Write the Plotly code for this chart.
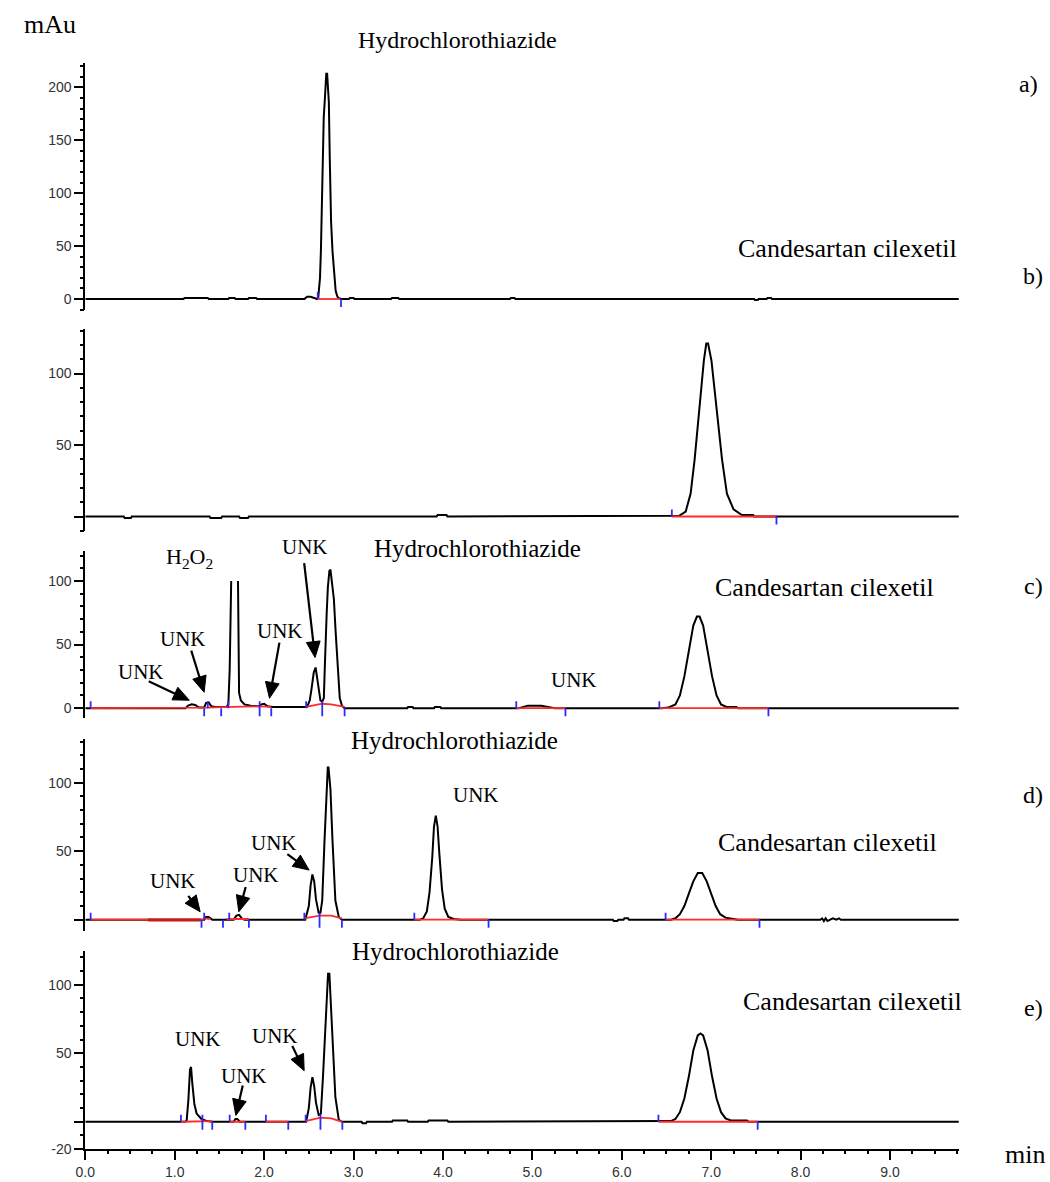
import math
import plotly.graph_objects as go

W, H = 1050, 1182
T_MAX = 9.77

# ---------------- data (time in min, signal in mAu) ----------------
a_time = [
    0.00, 1.10, 1.11, 1.37, 1.38, 1.60, 1.61, 1.67, 1.68, 1.82,
    1.83, 1.91, 1.92, 2.45, 2.48, 2.52, 2.56, 2.59, 2.605, 2.625,
    2.635, 2.645, 2.652, 2.66, 2.667, 2.68, 2.695, 2.705, 2.715, 2.724,
    2.735, 2.749, 2.765, 2.779, 2.80, 2.816, 2.83, 2.86, 2.95, 2.96,
    3.00, 3.01, 3.42, 3.43, 3.50, 3.51, 4.75, 4.76, 4.80, 4.81,
    7.48, 7.49, 7.52, 7.53, 7.62, 7.63, 7.67, 7.68, 7.80, 9.77]
a_mau = [
    0, 0, 1, 1, 0, 0, 1, 1, 0, 0,
    1, 1, 0, 0, 2, 2, 1, 0, 1, 20,
    45, 80, 101, 150, 172, 190, 213, 213, 200, 186,
    130, 73, 45, 26, 8, 3, 1, 0, 0, 1,
    1, 0, 0, 1, 1, 0, 0, 1, 1, 0,
    0, -1, -1, 0, 0, 1, 1, 0, 0, 0]

b_time = [
    0.00, 0.43, 0.44, 0.51, 0.52, 0.58, 0.59, 1.00, 1.01, 1.39,
    1.40, 1.52, 1.53, 1.72, 1.73, 1.82, 1.83, 1.98, 1.99, 3.93,
    3.94, 4.04, 4.05, 6.56, 6.641, 6.715, 6.77, 6.815, 6.863, 6.918,
    6.945, 6.965, 7.003, 7.065, 7.121, 7.176, 7.25, 7.343, 7.47, 7.48,
    9.77]
b_mau = [
    0, 0, -1, -1, 0, 0, -0.5, -0.5, 0, 0,
    -1, -1, 0, 0, -1, -1, 0, 0, 0, 0,
    1, 1, 0, 0, 0.5, 3.5, 16, 40, 74, 109,
    121, 121, 109, 74, 40, 16, 5, 1, 1, 0,
    0]

c_time = [
    0.00, 1.12, 1.15, 1.19, 1.23, 1.27, 1.33, 1.35, 1.38, 1.41,
    1.45, 1.58, 1.60, 1.615, 1.632, 1.67, 1.708, 1.712, 1.72, 1.74,
    1.78, 1.85, 1.95, 1.97, 2.00, 2.04, 2.10, 2.48, 2.51, 2.53,
    2.555, 2.576, 2.595, 2.61, 2.63, 2.65, 2.668, 2.68, 2.687, 2.70,
    2.713, 2.73, 2.742, 2.755, 2.78, 2.80, 2.816, 2.83, 2.846, 2.87,
    2.90, 3.60, 3.61, 3.66, 3.67, 3.90, 3.91, 3.97, 3.98, 4.85,
    4.90, 4.95, 5.10, 5.18, 5.25, 6.45, 6.52, 6.60, 6.65, 6.70,
    6.75, 6.80, 6.84, 6.87, 6.91, 6.96, 7.01, 7.06, 7.11, 7.17,
    7.28, 7.30, 9.77]
c_mau = [
    0, 0, 2, 3, 2.5, 0.5, 0.5, 4, 4.5, 1.5,
    1, 1, 3, 30, 100, None, 100, 30, 12, 6,
    3, 2, 1.5, 3, 3.5, 1.5, 1, 1, 6, 15,
    28, 32, 24, 15, 6, 5, 8, 35, 54, 75,
    95, 108, 109, 100, 86, 60, 41, 20, 8, 2,
    0, 0, 1, 1, 0, 0, 1, 1, 0, 0,
    1, 2, 2, 1, 0, 0, 0.5, 3, 10, 25,
    45, 65, 72, 72, 65, 45, 25, 10, 3, 1,
    1, 0, 0]

d_time = [
    0.00, 1.33, 1.35, 1.38, 1.40, 1.42, 1.66, 1.69, 1.72, 1.75,
    1.78, 2.46, 2.50, 2.52, 2.54, 2.56, 2.58, 2.61, 2.63, 2.65,
    2.675, 2.697, 2.712, 2.72, 2.742, 2.764, 2.797, 2.835, 2.87, 3.74,
    3.78, 3.82, 3.85, 3.88, 3.90, 3.92, 3.94, 3.96, 3.99, 4.02,
    4.06, 4.12, 4.20, 5.90, 5.91, 5.95, 5.96, 6.02, 6.03, 6.07,
    6.08, 6.55, 6.60, 6.65, 6.70, 6.75, 6.80, 6.85, 6.90, 6.95,
    7.00, 7.05, 7.10, 7.16, 7.25, 7.30, 8.22, 8.24, 8.26, 8.28,
    8.30, 8.33, 8.36, 8.40, 8.43, 8.45, 9.77]
d_mau = [
    0, 0, 2, 2, 1, 0, 0, 3, 3.5, 1,
    0, 0, 10, 25, 33, 28, 15, 5, 5, 14,
    57, 95, 111, 111, 95, 59, 14, 2, 0, 0,
    1, 6, 20, 45, 68, 76, 68, 48, 22, 8,
    2, 0.5, 0, 0, -1, -1, 0, 0, 1, 1,
    0, 0, 1, 4, 10, 19, 28, 34, 34, 28,
    19, 10, 4, 1.5, 0.5, 0, 0, 1, -1, 1,
    -1, 0, 1, 0, 1, 0, 0]

e_time = [
    0.00, 1.12, 1.134, 1.153, 1.171, 1.183, 1.197, 1.22, 1.245, 1.30,
    1.36, 1.42, 1.66, 1.68, 1.70, 1.73, 2.47, 2.50, 2.52, 2.54,
    2.56, 2.58, 2.61, 2.635, 2.66, 2.685, 2.715, 2.73, 2.76, 2.797,
    2.835, 2.87, 3.09, 3.10, 3.14, 3.15, 3.43, 3.44, 3.60, 3.61,
    3.83, 3.84, 4.05, 4.06, 6.55, 6.60, 6.65, 6.70, 6.75, 6.80,
    6.85, 6.88, 6.91, 6.96, 7.01, 7.06, 7.11, 7.16, 7.22, 7.40,
    7.42, 9.77]
e_mau = [
    0, 0, 1, 16, 38, 40, 28, 13, 6, 2,
    0.5, 0, 0, 2, 2, 0, 0, 10, 25, 32.6,
    26, 14, 5, 6, 35, 72, 108, 108, 72, 18,
    1.5, 0, 0, -1, -1, 0, 0, 1, 1, 0,
    0, 1, 1, 0, 0.5, 2, 7, 17, 33, 52,
    63, 64.5, 63, 52, 33, 17, 7, 2.5, 1, 1,
    0, 0]

# integration baselines (red)
a_red_t = [2.60, 2.85]
a_red_y = [0, 0]
b_red_t = [6.56, 7.73]
b_red_y = [0, 0]
c_red_t = [0.06, 1.33, 1.37, 1.52, 1.60, 1.95, 2.08, None, 2.47, 2.62, 2.65, 2.75, 2.90,
           None, 4.82, 5.37, None, 6.42, 7.64]
c_red_y = [0, 0, 0.5, 0.8, 1, 1.5, 1, None, 1, 3, 3.5, 3, 1, None, 0, 0, None, 0, 0]
d_red_t = [0.06, 1.31, 1.33, 1.40, None, 1.58, 1.83, None, 2.45, 2.62, 2.75, 2.87,
           None, 3.68, 4.51, None, 6.49, 7.54]
d_red_y = [0, 0, 1, 0.5, None, 0.5, 0.5, None, 1, 3, 3, 1, None, 0, 0, None, 0, 0]
d_dark_t = [0.70, 1.29]
d_dark_y = [-0.3, -0.3]
e_red_t = [1.07, 1.31, 1.42, None, 1.615, 1.79, None, 2.02, 2.27, None, 2.465, 2.63, 2.75, 2.875,
           None, 6.41, 7.52]
e_red_y = [0, 0, 0.5, None, 0, 0, None, 0, 0, None, 0.5, 3, 2.5, 0, None, 0, 0]

# peak start/end markers (blue): side 1 = above, -1 = below, 0 = both
a_mark_t = [2.60, 2.86]
a_mark_side = [1, -1]
b_mark_t = [6.56, 7.73]
b_mark_side = [1, -1]
c_mark_t = [0.06, 1.33, 1.37, 1.52, 1.60, 1.95, 2.08, 2.47, 2.65, 2.90, 4.82, 5.37, 6.42, 7.64]
c_mark_side = [1, -1, 1, -1, 1, 0, -1, 1, 0, -1, 1, -1, 1, -1]
d_mark_t = [0.06, 1.30, 1.33, 1.54, 1.61, 1.83, 2.45, 2.62, 2.87, 3.68, 4.51, 6.49, 7.54]
d_mark_side = [1, -1, 1, -1, 1, -1, 1, 0, -1, 1, -1, 1, -1]
e_mark_t = [1.07, 1.31, 1.42, 1.615, 1.79, 2.02, 2.27, 2.465, 2.63, 2.875, 6.41, 7.52]
e_mark_side = [1, 0, -1, 1, -1, 1, -1, 1, 0, -1, 1, -1]

# axis ticks
a_yticks = [0, 50, 100, 150, 200]
a_yticklabels = ["0", "50", "100", "150", "200"]
b_yticks = [0, 50, 100]
b_yticklabels = ["", "50", "100"]
c_yticks = [0, 50, 100]
c_yticklabels = ["0", "50", "100"]
d_yticks = [0, 50, 100]
d_yticklabels = ["", "50", "100"]
e_yticks = [-20, 0, 50, 100]
e_yticklabels = ["-20", "", "50", "100"]
x_ticks = [0, 1, 2, 3, 4, 5, 6, 7, 8, 9]
x_ticklabels = ["0.0", "1.0", "2.0", "3.0", "4.0", "5.0", "6.0", "7.0", "8.0", "9.0"]
Y_MINOR_STEP = 10
X_MINOR_STEP = 0.25

# ---------------- layout geometry (pixels) ----------------
X_LEFT, X_RIGHT = 76, 958
panels = [
    dict(time=a_time, mau=a_mau, red_t=a_red_t, red_y=a_red_y, mt=a_mark_t, ms=a_mark_side,
         top=63, bottom=312, rng=[-10.3, 223.5], tv=a_yticks, tt=a_yticklabels),
    dict(time=b_time, mau=b_mau, red_t=b_red_t, red_y=b_red_y, mt=b_mark_t, ms=b_mark_side,
         top=331, bottom=535, rng=[-10.4, 131.3], tv=b_yticks, tt=b_yticklabels),
    dict(time=c_time, mau=c_mau, red_t=c_red_t, red_y=c_red_y, mt=c_mark_t, ms=c_mark_side,
         top=555, bottom=723, rng=[-7.8, 123.4], tv=c_yticks, tt=c_yticklabels),
    dict(time=d_time, mau=d_mau, red_t=d_red_t, red_y=d_red_y, mt=d_mark_t, ms=d_mark_side,
         top=744, bottom=937, rng=[-8.0, 131.9], tv=d_yticks, tt=d_yticklabels),
    dict(time=e_time, mau=e_mau, red_t=e_red_t, red_y=e_red_y, mt=e_mark_t, ms=e_mark_side,
         top=957, bottom=1157, rng=[-20.0, 125.0], tv=e_yticks, tt=e_yticklabels),
]

for p in panels:
    assert len(p["time"]) == len(p["mau"])
    assert len(p["red_t"]) == len(p["red_y"])
    assert len(p["mt"]) == len(p["ms"])

TICK_FONT = dict(family="Liberation Sans, Arial, sans-serif", size=14, color="#333333")
SERIF = "Liberation Serif, Times New Roman, serif"
LINE_W = 2.0
AX_W = 1.8
MAJOR_LEN = 9
MINOR_LEN = 4


def multiples(lo, hi, step, skip):
    k0 = math.ceil(lo / step - 1e-9)
    k1 = math.floor(hi / step + 1e-9)
    out = []
    for k in range(k0, k1 + 1):
        v = round(k * step, 6)
        if all(abs(v - s) > 1e-6 for s in skip):
            out.append(v)
    return out


fig = go.Figure()
layout = {}
xdom = [X_LEFT / W, X_RIGHT / W]
minor_axis_id = 7  # overlay axes for minor ticks start at index 7 (6 is the page overlay)

for i, p in enumerate(panels, start=1):
    xa = "x" if i == 1 else f"x{i}"
    ya = "y" if i == 1 else f"y{i}"
    xk = "xaxis" if i == 1 else f"xaxis{i}"
    yk = "yaxis" if i == 1 else f"yaxis{i}"
    ppu = (p["bottom"] - p["top"]) / (p["rng"][1] - p["rng"][0])  # px per unit

    fig.add_trace(go.Scatter(x=p["time"], y=p["mau"], mode="lines",
                             line=dict(color="black", width=LINE_W),
                             xaxis=xa, yaxis=ya, hoverinfo="skip", showlegend=False))
    fig.add_trace(go.Scatter(x=p["red_t"], y=p["red_y"], mode="lines",
                             line=dict(color="#ff2a2a", width=1.8),
                             xaxis=xa, yaxis=ya, hoverinfo="skip", showlegend=False))
    if i == 4:
        fig.add_trace(go.Scatter(x=d_dark_t, y=d_dark_y, mode="lines",
                                 line=dict(color="#c81818", width=3),
                                 xaxis=xa, yaxis=ya, hoverinfo="skip", showlegend=False))
    # blue markers
    up = 7 / ppu
    dn = 8 / ppu
    mx, my = [], []
    for t, s in zip(p["mt"], p["ms"]):
        if s == 1:
            y0, y1 = 0, up
        elif s == -1:
            y0, y1 = -dn, 0
        else:
            y0, y1 = -dn, up
        mx += [t, t, None]
        my += [y0, y1, None]
    fig.add_trace(go.Scatter(x=mx, y=my, mode="lines",
                             line=dict(color="#2a2aff", width=1.8),
                             xaxis=xa, yaxis=ya, hoverinfo="skip", showlegend=False))

    ydom = [1 - p["bottom"] / H, 1 - p["top"] / H]
    layout[yk] = dict(domain=ydom, range=p["rng"], anchor=xa,
                      tickmode="array", tickvals=p["tv"], ticktext=p["tt"],
                      ticks="outside", ticklen=MAJOR_LEN, tickwidth=1.6, tickcolor="black",
                      showline=True, linecolor="black", linewidth=AX_W,
                      showgrid=False, zeroline=False, tickfont=TICK_FONT, fixedrange=True)

    # overlay y axis carrying the minor ticks
    my_id = minor_axis_id
    minor_axis_id += 1
    layout[f"yaxis{my_id}"] = dict(overlaying=ya, anchor=xa, side="left", range=p["rng"],
                                   tickmode="array",
                                   tickvals=multiples(p["rng"][0], p["rng"][1], Y_MINOR_STEP, p["tv"]),
                                   ticks="outside", ticklen=MINOR_LEN, tickwidth=1.5,
                                   tickcolor="black", showticklabels=False, showline=False,
                                   showgrid=False, zeroline=False, fixedrange=True)
    fig.add_trace(go.Scatter(x=[None], y=[None], mode="lines", xaxis=xa, yaxis=f"y{my_id}",
                             hoverinfo="skip", showlegend=False))

    if i == 5:
        layout[xk] = dict(domain=xdom, range=[0, T_MAX], anchor=ya,
                          tickmode="array", tickvals=x_ticks, ticktext=x_ticklabels,
                          ticks="outside", ticklen=MAJOR_LEN, tickwidth=1.6, tickcolor="black",
                          showline=True, linecolor="black", linewidth=AX_W,
                          showgrid=False, zeroline=False, tickfont=TICK_FONT, fixedrange=True)
        mx_id = minor_axis_id
        minor_axis_id += 1
        layout[f"xaxis{mx_id}"] = dict(overlaying=xa, anchor=ya, side="bottom", range=[0, T_MAX],
                                       tickmode="array",
                                       tickvals=multiples(0, T_MAX, X_MINOR_STEP, x_ticks),
                                       ticks="outside", ticklen=MINOR_LEN, tickwidth=1.5,
                                       tickcolor="black", showticklabels=False, showline=False,
                                       showgrid=False, zeroline=False, fixedrange=True)
        fig.add_trace(go.Scatter(x=[None], y=[None], mode="lines", xaxis=f"x{mx_id}", yaxis=ya,
                                 hoverinfo="skip", showlegend=False))
    else:
        layout[xk] = dict(domain=xdom, range=[0, T_MAX], anchor=ya, visible=False,
                          showgrid=False, zeroline=False, fixedrange=True)

# full-page overlay axes in pixel units (for annotation arrows)
layout["xaxis6"] = dict(domain=[0, 1], range=[0, W], anchor="y6", visible=False, fixedrange=True)
layout["yaxis6"] = dict(domain=[0, 1], range=[H, 0], anchor="x6", visible=False, fixedrange=True)

annotations = []


def text(s, x, y, size=25):
    annotations.append(dict(text=s, x=x / W, y=1 - y / H, xref="paper", yref="paper",
                            xanchor="center", yanchor="middle", showarrow=False,
                            font=dict(family=SERIF, size=size, color="black")))


HEAD_L = 16
HEAD_HW = 7
arrow_x, arrow_y = [], []
head_x, head_y = [], []


def arrow(tail, tip):
    dx, dy = tip[0] - tail[0], tip[1] - tail[1]
    n = math.hypot(dx, dy)
    ux, uy = dx / n, dy / n
    bx, by = tip[0] - ux * HEAD_L, tip[1] - uy * HEAD_L
    arrow_x.extend([tail[0], bx + ux * 2, None])
    arrow_y.extend([tail[1], by + uy * 2, None])
    head_x.extend([tip[0], bx - uy * HEAD_HW, bx + uy * HEAD_HW, tip[0], None])
    head_y.extend([tip[1], by + ux * HEAD_HW, by - ux * HEAD_HW, tip[1], None])


# labels
text("mAu", 40, 25, 26)
text("min", 1025, 1162, 26)
text("a)", 1028, 85, 24)
text("b)", 1033, 278, 24)
text("c)", 1033, 590, 24)
text("d)", 1033, 800, 24)
text("e)", 1033, 1015, 24)

# panel a
text("Hydrochlorothiazide", 452, 40, 24)
# panel b
text("Candesartan cilexetil", 846, 250, 26)
# panel c
text("H<sub>2</sub>O<sub>2</sub>", 181, 562, 22)
text("Hydrochlorothiazide", 472, 552, 25)
text("Candesartan cilexetil", 822, 591, 26)
text("UNK", 132, 677, 21)
text("UNK", 175, 643, 21)
text("UNK", 273, 635, 21)
text("UNK", 298, 551, 21)
text("UNK", 569, 685, 21)
arrow((140, 686), (181, 705))
arrow((183, 655), (196, 697))
arrow((272, 647), (262, 703))
arrow((297, 567), (308, 662))
# panel d
text("Hydrochlorothiazide", 449, 746, 25)
text("UNK", 470, 800, 21)
text("Candesartan cilexetil", 825, 848, 26)
text("UNK", 165, 887, 21)
text("UNK", 248, 881, 21)
text("UNK", 267, 849, 21)
arrow((180, 902), (192, 918))
arrow((238, 893), (231, 918))
arrow((280, 860), (302, 876))
# panel e
text("Hydrochlorothiazide", 450, 958, 25)
text("Candesartan cilexetil", 851, 1008, 26)
text("UNK", 190, 1046, 21)
text("UNK", 236, 1083, 21)
text("UNK", 268, 1043, 21)
arrow((235, 1093), (228, 1123))
arrow((285, 1053), (297, 1078))

fig.add_trace(go.Scatter(x=arrow_x, y=arrow_y, mode="lines",
                         line=dict(color="black", width=2.2),
                         xaxis="x6", yaxis="y6", hoverinfo="skip", showlegend=False))
fig.add_trace(go.Scatter(x=head_x, y=head_y, mode="lines", fill="toself",
                         fillcolor="black", line=dict(color="black", width=1),
                         xaxis="x6", yaxis="y6", hoverinfo="skip", showlegend=False))

fig.update_layout(width=W, height=H, margin=dict(l=0, r=0, t=0, b=0),
                  paper_bgcolor="white", plot_bgcolor="rgba(0,0,0,0)",
                  showlegend=False, annotations=annotations, **layout)

fig.write_html("out.html", config={"displayModeBar": False})
